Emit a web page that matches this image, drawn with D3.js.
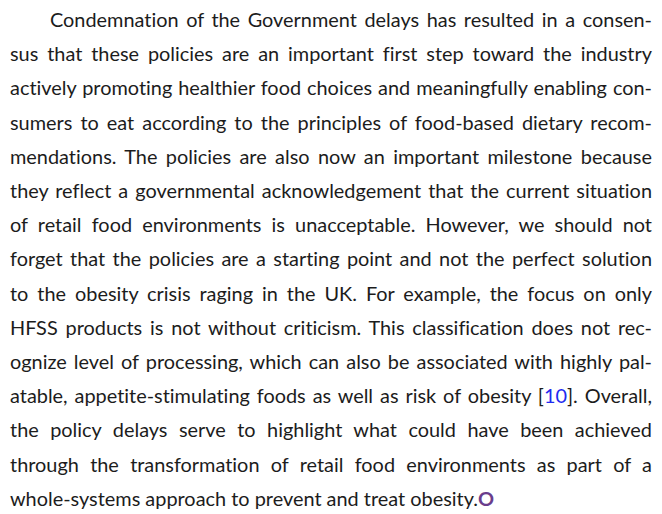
<!DOCTYPE html>
<html><head><meta charset="utf-8">
<script src="https://cdn.jsdelivr.net/npm/d3@7"></script>
<style>
html,body{margin:0;padding:0;background:#fff;}
#page{position:relative;width:662px;height:514px;overflow:hidden;font-family:Lato,"Noto Sans",sans-serif;font-size:19.9px;color:#1c1c1c;font-variant-ligatures:none;}
.ln{position:absolute;left:10px;width:642px;white-space:nowrap;text-align:justify;text-align-last:justify;line-height:1;}
.ln.last{text-align-last:left;}
.cite{color:#1f2bf0;}
.end{color:#6a3d8c;font-weight:bold;}
</style></head><body>
<div id="page"></div>
<script>
const lines = [
  "Condemnation of the Government delays has resulted in a consen-",
  "sus that these policies are an important first step toward the industry",
  "actively promoting healthier food choices and meaningfully enabling con-",
  "sumers to eat according to the principles of food-based dietary recom-",
  "mendations. The policies are also now an important milestone because",
  "they reflect a governmental acknowledgement that the current situation",
  "of retail food environments is unacceptable. However, we should not",
  "forget that the policies are a starting point and not the perfect solution",
  "to the obesity crisis raging in the UK. For example, the focus on only",
  "HFSS products is not without criticism. This classification does not rec-",
  "ognize level of processing, which can also be associated with highly pal-",
  "atable, appetite-stimulating foods as well as risk of obesity [10]. Overall,",
  "the policy delays serve to highlight what could have been achieved",
  "through the transformation of retail food environments as part of a",
  "whole-systems approach to prevent and treat obesity."
];
const citation = "10";
const endMark = "O";

const firstBaseline = 26, lineGap = 34.2, indent = 40;
const y = d3.scaleLinear().domain([0, 1]).range([firstBaseline, firstBaseline + lineGap]);
const page = d3.select("#page");
const esc = s => s.replace(/&/g,"&amp;").replace(/</g,"&lt;");
page.selectAll("div.ln").data(lines).join("div")
  .attr("class", (d,i) => i === lines.length - 1 ? "ln last" : "ln")
  .style("top", (d,i) => (y(i) - 16) + "px")
  .style("left", (d,i) => (i === 0 ? 10 + indent : 10) + "px")
  .style("width", (d,i) => (i === 0 ? 642 - indent : 642) + "px")
  .html((d,i) => {
    let h = esc(d).replace("[" + citation + "]", '[<span class="cite">' + citation + '</span>]');
    if (i === lines.length - 1) h += '<span class="end">' + endMark + '</span>';
    return h;
  });
</script>
</body></html>
